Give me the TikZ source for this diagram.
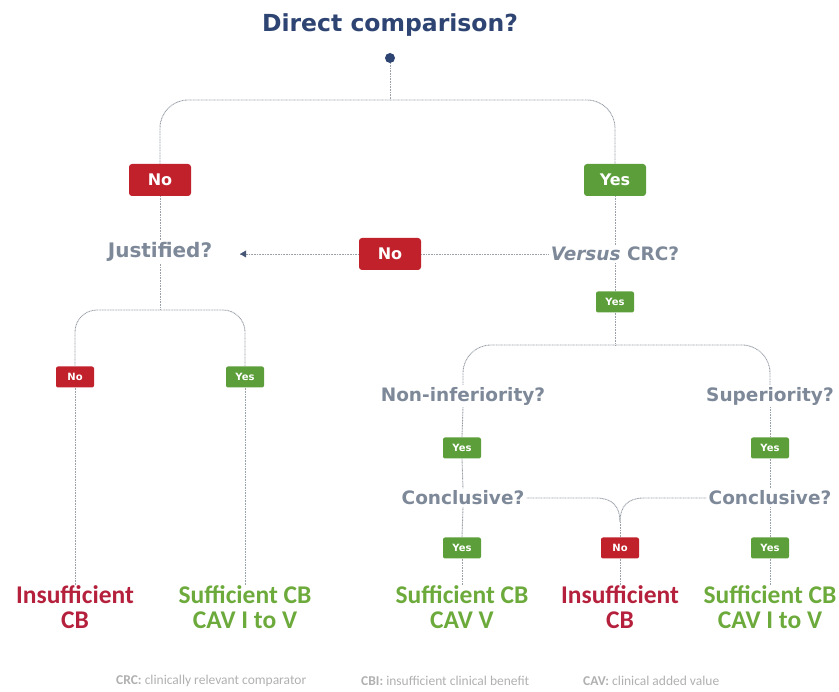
\documentclass[tikz,border=0pt]{standalone}
\usepackage{fontspec}
\setmainfont{DejaVu Sans}
\newfontfamily\outfont{Carlito}
\usetikzlibrary{arrows.meta}
\definecolor{navy}{HTML}{2E4472}
\definecolor{qgray}{HTML}{7D8898}
\definecolor{boxred}{HTML}{C0212B}
\definecolor{boxgreen}{HTML}{5C9E3A}
\definecolor{outred}{HTML}{B5213C}
\definecolor{outgreen}{HTML}{6DAA3C}
\definecolor{linegray}{HTML}{9AA0A8}
\definecolor{leggray}{HTML}{B0B0B0}
\tikzset{
  conn/.style={draw=linegray, line width=0.9pt, dash pattern=on 1pt off 0.6pt},
  qtext/.style={text=qgray, font=\fontsize{18.5}{22}\selectfont\bfseries, inner sep=2pt},
  bigbox/.style={rounded corners=3pt, minimum width=62, minimum height=32, inner sep=0pt,
    font=\fontsize{16}{20}\selectfont\bfseries, text=white},
  smallbox/.style={rounded corners=2pt, minimum width=38, minimum height=21, inner sep=0pt,
    font=\fontsize{10}{13}\selectfont\bfseries, text=white},
  outtext/.style={font=\outfont\fontsize{25.5}{25.5}\selectfont\bfseries, align=center, inner sep=0pt},
  legend/.style={font=\outfont\fontsize{13.5}{15}\selectfont, text=leggray, inner sep=0pt}
}
\begin{document}
\begin{tikzpicture}[x=1pt, y=-1pt]
\useasboundingbox (0,0) rectangle (839,692);
% title
\node[text=navy, font=\fontsize{23.5}{26}\selectfont\bfseries] (title) at (390,25) {Direct comparison?};
\node[circle, fill=navy, inner sep=0pt, minimum size=10] (dot) at (390,58) {};
\coordinate (s1) at (390,100);
% first level
\node[bigbox, fill=boxred] (no1) at (160,180) {No};
\node[bigbox, fill=boxgreen] (yes1) at (615,180) {Yes};
\node[qtext, font=\fontsize{20}{22}\selectfont\bfseries] (just) at (160,252) {Justified?};
\node[qtext] (versus) at (615,254) {\textit{Versus} CRC?};
\node[bigbox, fill=boxred] (no2) at (390,254) {No};
\node[smallbox, fill=boxgreen] (yes2) at (615,302) {Yes};
% left branch
\coordinate (s2) at (160,310);
\node[smallbox, fill=boxred] (no3) at (75,377) {No};
\node[smallbox, fill=boxgreen] (yes3) at (245,377) {Yes};
\node[outtext, text=outred] (out1) at (75,607) {Insufficient\\CB};
\node[outtext, text=outgreen] (out2) at (245,607) {Sufficient CB\\CAV I to V};
% right branch
\coordinate (s3) at (615,345);
\node[qtext] (noninf) at (463,396) {Non-inferiority?};
\node[qtext] (sup) at (770,396) {Superiority?};
\node[smallbox, fill=boxgreen] (yes4) at (462,448) {Yes};
\node[smallbox, fill=boxgreen] (yes5) at (770,448) {Yes};
\node[qtext] (conc1) at (463,498) {Conclusive?};
\node[qtext] (conc2) at (770,498) {Conclusive?};
\node[smallbox, fill=boxgreen] (yes6) at (462,548) {Yes};
\node[smallbox, fill=boxred] (no4) at (620,548) {No};
\node[smallbox, fill=boxgreen] (yes7) at (770,548) {Yes};
\coordinate (m) at (620,522);
\node[outtext, text=outgreen] (out3) at (462,607) {Sufficient CB\\CAV V};
\node[outtext, text=outred] (out4) at (620,607) {Insufficient\\CB};
\node[outtext, text=outgreen] (out5) at (770,607) {Sufficient CB\\CAV I to V};
% legend
\node[legend, anchor=west] (l1) at (116,681) {\textbf{CRC:} clinically relevant comparator};
\node[legend, anchor=west] (l2) at (361,681) {\textbf{CBI:} insufficient clinical benefit};
\node[legend, anchor=west] (l3) at (583,681) {\textbf{CAV:} clinical added value};
% connectors
\coordinate (tip) at (240,254);
\draw[conn] (dot) -- (s1);
\draw[conn, rounded corners=28] (no1.north) |- (s1) -| (yes1.north);
\draw[conn] (no1.south) -- (just.north);
\draw[conn] (yes1.south) -- (versus.north);
\draw[conn] (versus.west) -- (no2.east);
\draw[conn] (no2.west) -- (tip);
\draw[draw=none, fill=navy!70!gray] (tip) -- ++(6,-3.5) -- ++(0,7) -- cycle;
\draw[conn] (versus.south) -- (yes2.north);
\draw[conn] (yes2.south) -- (s3);
\draw[conn, rounded corners=28] (noninf.north) |- (s3) -| (sup.north);
\draw[conn] (just.south) -- (s2);
\draw[conn, rounded corners=22] (no3.north) |- (s2) -| (yes3.north);
\draw[conn] (no3.south) -- (out1.north);
\draw[conn] (yes3.south) -- (out2.north);
\draw[conn] (noninf.south) -- (yes4.north);
\draw[conn] (sup.south) -- (yes5.north);
\draw[conn] (yes4.south) -- (conc1.north);
\draw[conn] (yes5.south) -- (conc2.north);
\draw[conn] (conc1.south) -- (yes6.north);
\draw[conn] (conc2.south) -- (yes7.north);
\draw[conn] (conc1.east) -- (596,498) .. controls (612,498) and (620,506) .. (m);
\draw[conn] (conc2.west) -- (644,498) .. controls (628,498) and (620,506) .. (m);
\draw[conn] (m) -- (no4.north);
\draw[conn] (yes6.south) -- (out3.north);
\draw[conn] (no4.south) -- (out4.north);
\draw[conn] (yes7.south) -- (out5.north);
\end{tikzpicture}
\end{document}
